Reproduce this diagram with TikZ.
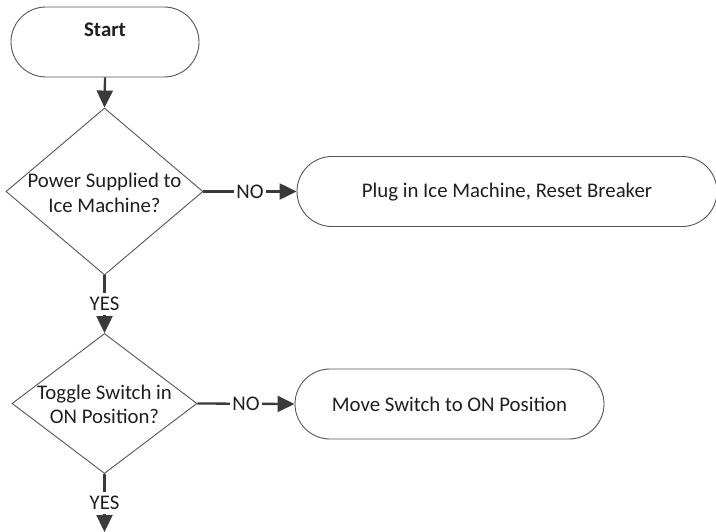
\documentclass[tikz,border=0pt]{standalone}
\usepackage{fontspec}
\setmainfont{Carlito}
\usetikzlibrary{shapes.geometric,arrows.meta}
\definecolor{edgegray}{HTML}{555555}
\definecolor{linkgray}{HTML}{3A3A3A}
\definecolor{inkgray}{HTML}{1E1E1E}
\tikzset{
  terminal/.style={draw=edgegray, line width=0.9bp, rounded corners=35bp,
    minimum height=70bp, inner sep=0pt, text=inkgray},
  decision/.style={draw=edgegray, line width=0.9bp, diamond, inner sep=0pt},
  caption/.style={text=inkgray, align=center, inner sep=0pt},
  link/.style={draw=linkgray, line width=2.3bp,
    -{Triangle[length=17bp,width=16bp]}},
  tag/.style={fill=white, text=inkgray, inner sep=2bp}
}
\begin{document}
\begin{tikzpicture}[x=1bp,y=-1bp,font=\fontsize{20.8bp}{24.5bp}\selectfont]
\useasboundingbox (0,0) rectangle (716,532);
\clip (0,0) rectangle (716,532);

% start terminal
\node[terminal, minimum width=188bp] (start) at (105,42) {};
\node[caption, font=\fontsize{20.8bp}{24.5bp}\selectfont\bfseries] (starttxt) at (105,30) {Start};

% first decision
\node[decision, minimum width=197bp, minimum height=167bp] (power) at (104.5,191.5) {};
\node[caption] (powertxt) at (104.5,193) {Power Supplied to\\Ice Machine?};

% remedy for no power
\node[terminal, minimum width=420bp] (plug) at (507,191.5) {};
\node[caption] (plugtxt) at (507,192) {Plug in Ice Machine, Reset Breaker};

% second decision
\node[decision, minimum width=185bp, minimum height=140bp] (toggle) at (104.5,403.5) {};
\node[caption] (toggletxt) at (104.5,404.5) {Toggle Switch in\\ON Position?};

% remedy for switch off
\node[terminal, minimum width=309bp] (move) at (449.5,404) {};
\node[caption] (movetxt) at (449.5,404.5) {Move Switch to ON Position};

\coordinate (next) at (104.5,532);

% connectors
\draw[link] (start.south) -- (power.north);
\draw[link] (power.east) -- node[tag] (no1) {NO} (plug.west);
\draw[link] (power.south) -- node[tag, inner sep=4bp] (yes1) {YES} (toggle.north);
\draw[link] (toggle.east) -- node[tag] (no2) {NO} (move.west);
\draw[link] (toggle.south) -- node[tag, inner sep=4bp] (yes2) {YES} (next);
\end{tikzpicture}
\end{document}
